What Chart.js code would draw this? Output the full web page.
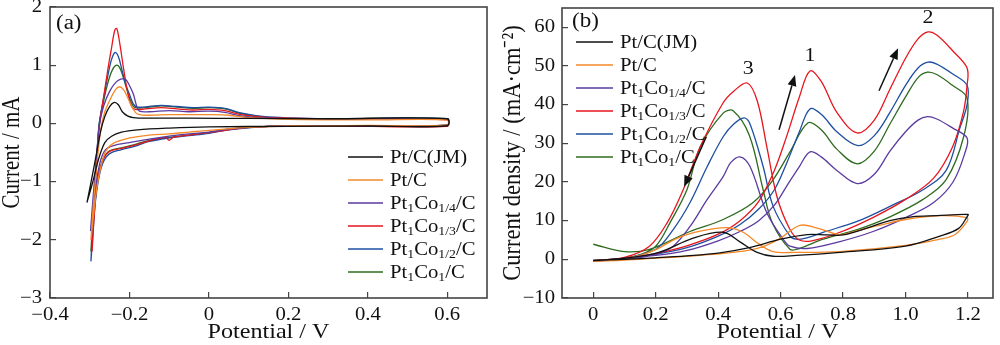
<!DOCTYPE html>
<html><head><meta charset="utf-8">
<script src="https://cdn.jsdelivr.net/npm/chart.js@4.4.1/dist/chart.umd.min.js"></script>
<style>
body{margin:0;background:#fff;width:1000px;height:345px;overflow:hidden}
#wrap{position:relative;width:1000px;height:345px}
canvas{position:absolute;top:0}
#ca{left:0}#cb{left:500px}
</style></head><body>
<div id="wrap"><canvas id="ca" width="500" height="345"></canvas><canvas id="cb" width="500" height="345"></canvas></div>
<script>
// ---------- shared ----------
const seriesNames = ['Pt/C(JM)', 'Pt/C', 'Pt_1Co_{1/4}/C', 'Pt_1Co_{1/3}/C', 'Pt_1Co_{1/2}/C', 'Pt_1Co_1/C'];
const seriesColors = ['#111111', '#f5892a', '#5b3aa0', '#e6161e', '#1d4fa0', '#2e6b1e'];

// ---------- panel (a): CV, potential (V) vs current (mA) ----------
const aXTicks = [-0.4, -0.2, 0, 0.2, 0.4, 0.6];
const aXTickLabels = ['\u22120.4', '\u22120.2', '0', '0.2', '0.4', '0.6'];
const aYTicks = [-3, -2, -1, 0, 1, 2];
const aYTickLabels = ['\u22123', '\u22122', '\u22121', '0', '1', '2'];

const aV_JM = [-0.307,-0.295,-0.283,-0.272,-0.262,-0.25,-0.238,-0.228,-0.218,-0.205,-0.19,-0.15,-0.05,0.1,0.3,0.6, 0.6,0.4,0.2,0,-0.1,-0.18,-0.22,-0.245,-0.262,-0.278,-0.292,-0.307];
const aI_JM = [-1.36,-0.95,-0.52,-0.12,0.12,0.29,0.36,0.32,0.2,0.13,0.1,0.09,0.09,0.085,0.08,0.08, -0.04,-0.045,-0.05,-0.06,-0.08,-0.11,-0.15,-0.22,-0.33,-0.62,-1.0,-1.36];

const aV_PtC = [-0.297,-0.292,-0.286,-0.279,-0.272,-0.262,-0.248,-0.235,-0.225,-0.215,-0.205,-0.195,-0.185,-0.175,-0.15,-0.1,-0.05,0,0.05,0.1,0.2,0.4,0.6, 0.6,0.4,0.2,0.1,0,-0.05,-0.1,-0.15,-0.2,-0.24,-0.26,-0.272,-0.282,-0.29,-0.297];
const aI_PtC = [-2.0,-1.5,-1.0,-0.5,-0.1,0.2,0.42,0.58,0.63,0.58,0.45,0.3,0.19,0.15,0.14,0.15,0.15,0.15,0.14,0.1,0.07,0.06,0.06, -0.03,-0.035,-0.045,-0.07,-0.12,-0.15,-0.18,-0.2,-0.25,-0.34,-0.48,-0.75,-1.1,-1.55,-2.0];

const aV_14 = [-0.298,-0.293,-0.287,-0.281,-0.275,-0.265,-0.25,-0.235,-0.222,-0.21,-0.2,-0.19,-0.182,-0.175,-0.15,-0.1,-0.05,0,0.04,0.08,0.15,0.3,0.6, 0.6,0.3,0.15,0.05,0,-0.05,-0.1,-0.15,-0.2,-0.24,-0.26,-0.272,-0.282,-0.29,-0.298];
const aI_14 = [-1.85,-1.4,-0.9,-0.4,0.0,0.3,0.55,0.7,0.76,0.76,0.65,0.5,0.3,0.21,0.2,0.22,0.2,0.21,0.19,0.13,0.09,0.07,0.07, -0.03,-0.04,-0.05,-0.1,-0.15,-0.18,-0.22,-0.27,-0.33,-0.38,-0.45,-0.62,-0.95,-1.4,-1.85];

const aV_13 = [-0.294,-0.29,-0.285,-0.28,-0.275,-0.265,-0.255,-0.245,-0.237,-0.232,-0.225,-0.215,-0.205,-0.195,-0.185,-0.16,-0.12,-0.08,-0.04,0,0.04,0.08,0.15,0.3,0.6, 0.6,0.3,0.15,0.1,0.05,0,-0.05,-0.09,-0.1,-0.11,-0.15,-0.19,-0.22,-0.25,-0.265,-0.275,-0.283,-0.289,-0.294];
const aI_13 = [-2.2,-1.6,-0.95,-0.4,0.0,0.45,0.9,1.3,1.6,1.63,1.4,0.95,0.55,0.3,0.24,0.25,0.27,0.25,0.23,0.24,0.22,0.15,0.1,0.08,0.06, -0.05,-0.04,-0.05,-0.07,-0.11,-0.16,-0.2,-0.24,-0.29,-0.24,-0.3,-0.38,-0.43,-0.48,-0.6,-0.8,-1.1,-1.6,-2.2];

const aV_12 = [-0.297,-0.292,-0.287,-0.281,-0.276,-0.266,-0.255,-0.245,-0.236,-0.228,-0.22,-0.21,-0.2,-0.19,-0.18,-0.15,-0.12,-0.08,-0.04,0,0.04,0.08,0.15,0.3,0.6, 0.6,0.3,0.15,0.05,0,-0.05,-0.1,-0.15,-0.19,-0.22,-0.25,-0.265,-0.276,-0.285,-0.291,-0.297];
const aI_12 = [-2.37,-1.7,-1.05,-0.45,0.0,0.4,0.8,1.1,1.22,1.15,0.95,0.68,0.5,0.33,0.28,0.29,0.31,0.29,0.27,0.28,0.26,0.18,0.11,0.08,0.08, -0.03,-0.04,-0.05,-0.11,-0.17,-0.21,-0.25,-0.31,-0.4,-0.45,-0.52,-0.65,-0.9,-1.3,-1.8,-2.37];

const aV_11 = [-0.297,-0.292,-0.287,-0.281,-0.276,-0.266,-0.255,-0.243,-0.232,-0.224,-0.215,-0.205,-0.195,-0.185,-0.15,-0.12,-0.08,-0.04,0,0.04,0.08,0.15,0.3,0.6, 0.6,0.3,0.15,0.05,0,-0.05,-0.1,-0.15,-0.19,-0.22,-0.25,-0.265,-0.276,-0.285,-0.291,-0.297];
const aI_11 = [-2.2,-1.6,-1.0,-0.45,0.0,0.35,0.68,0.92,1.0,0.95,0.78,0.55,0.35,0.27,0.28,0.3,0.28,0.26,0.27,0.25,0.17,0.1,0.08,0.08, -0.03,-0.04,-0.05,-0.1,-0.16,-0.2,-0.24,-0.29,-0.37,-0.42,-0.47,-0.6,-0.85,-1.25,-1.7,-2.2];

// ---------- panel (b): potential (V) vs current density (mA/cm2) ----------
const bXTicks = [0, 0.2, 0.4, 0.6, 0.8, 1.0, 1.2];
const bXTickLabels = ['0', '0.2', '0.4', '0.6', '0.8', '1.0', '1.2'];
const bYTicks = [-10, 0, 10, 20, 30, 40, 50, 60];
const bYTickLabels = ['\u221210', '0', '10', '20', '30', '40', '50', '60'];

const bV_JM = [0,0.1,0.2,0.3,0.4,0.5,0.6,0.685,0.75,0.8,0.873,0.95,1.02,1.1,1.2, 1.197,1.17,1.11,1.0,0.79,0.65,0.576,0.525,0.47,0.416,0.32,0.21,0.1,0];
const bJ_JM = [-0.3,0,0.4,0.9,1.6,3.0,5.2,6.4,6.3,6.3,8,10,11,11.3,11.6, 11,8,6,3.4,1.8,1,0.8,1.8,4.5,7,5.5,1.8,0.3,-0.3];

const bV_PtC = [0,0.1,0.2,0.3,0.4,0.5,0.55,0.6,0.662,0.72,0.79,0.85,0.9,1.0,1.11,1.197, 1.197,1.16,1.11,1.0,0.79,0.65,0.576,0.53,0.48,0.43,0.35,0.27,0.2,0.15,0.1,0];
const bJ_PtC = [-0.5,-0.2,0.3,0.8,1.4,2.4,3.5,5.5,8.8,8,6.4,7.5,8.5,10.3,11.3,10.8, 9.8,6.5,5.2,3.6,2,1.8,2,4,7,8.2,7.4,5.5,2.5,1,0.2,-0.5];

const bV_14 = [0,0.2,0.3,0.4,0.47,0.53,0.58,0.62,0.66,0.694,0.73,0.78,0.845,0.9,0.95,1.0,1.04,1.07,1.1,1.15,1.197, 1.19,1.152,1.09,1.0,0.896,0.79,0.685,0.63,0.61,0.556,0.502,0.47,0.44,0.416,0.365,0.31,0.256,0.2,0.1,0];
const bJ_14 = [-0.4,1,2.3,4.8,7.2,10,14,19,24,27.8,26.5,23,19.6,22,28,33,36,36.9,36.3,34,31.4, 27.5,20,14.7,10.8,7.2,4.6,2.8,3.4,5,12,24,26.5,25,21.4,15.5,8.5,3.4,1.3,0,-0.4];

const bV_13 = [0,0.1,0.2,0.3,0.4,0.47,0.53,0.58,0.62,0.66,0.694,0.73,0.78,0.845,0.9,0.95,1.0,1.04,1.072,1.1,1.15,1.197, 1.197,1.185,1.15,1.09,1.0,0.9,0.79,0.7,0.66,0.63,0.589,0.556,0.525,0.493,0.45,0.416,0.342,0.288,0.237,0.18,0.1,0];
const bJ_13 = [-0.3,0.3,1.5,3.5,6.5,10,15,23,32,42,48.7,46,38,32.7,36,44,52,57,58.8,58,54,49.5, 45,38,29,21,15.5,11,7,4.8,5,7.7,16,29,41,45.6,43.5,40.5,29,18,9.5,3.4,0.5,-0.5];

const bV_12 = [0,0.1,0.2,0.3,0.4,0.47,0.53,0.58,0.62,0.66,0.694,0.73,0.78,0.848,0.9,0.95,1.0,1.04,1.072,1.1,1.15,1.197, 1.197,1.174,1.13,1.056,0.95,0.845,0.736,0.68,0.65,0.63,0.576,0.544,0.502,0.483,0.45,0.416,0.365,0.31,0.256,0.2,0.1,0];
const bJ_12 = [-0.4,0.2,1.3,3,6,9,13,18,25,33,38.9,37.5,33,29.4,32,38,45,49.5,51,50.5,48,45, 40,34,23,18,13.7,9.8,7,5.5,5.2,6,13.7,24,35,36.6,35,31.7,24,14.7,7.7,2.6,0.3,-0.4];

const bV_11 = [0,0.1,0.18,0.31,0.416,0.512,0.576,0.63,0.688,0.73,0.78,0.845,0.9,0.95,1.0,1.04,1.07,1.1,1.15,1.197, 1.186,1.13,1.056,0.95,0.845,0.736,0.66,0.63,0.573,0.544,0.5,0.448,0.416,0.342,0.3,0.246,0.2,0.15,0.1,0];
const bJ_11 = [3.9,2,2.6,7.2,10.3,14.7,20.6,27.8,35.3,33.5,28.5,24.7,28,35,42,47,48.4,47.8,45,41.7, 31.7,20.6,15.5,11,7.7,5.2,2.8,2.6,9.5,18,32,38.4,37.8,29,18,9.5,3.4,1.2,0.2,-0.3];

// annotations of panel (b) in data units
const bPeakLabels = [{t:'1', x:0.694, y:52.5}, {t:'2', x:1.072, y:62.3}, {t:'3', x:0.496, y:49.2}];
const bArrows = [{x1:0.595, y1:33.5, x2:0.646, y2:47.7}, {x1:0.915, y1:43.6, x2:0.976, y2:54.6}, {x1:0.362, y1:31.7, x2:0.291, y2:18.8}];

// ---------- helpers ----------
const SERIF = '"Liberation Serif", "Times New Roman", serif';
const STRETCH = 1.15;   // text in the source figure is horizontally widened
function stretchCtx(canvas, s){
  const ctx = canvas.getContext('2d');
  const of = ctx.fillText.bind(ctx), om = ctx.measureText.bind(ctx);
  ctx.fillText = function(t, x, y, mw){
    const m = ctx.getTransform();
    const p = m.transformPoint(new DOMPoint(x, y));
    ctx.setTransform(new DOMMatrix([s,0,0,1,p.x*(1-s),0]).multiply(m));
    if (mw !== undefined) of(t, x, y, mw); else of(t, x, y);
    ctx.setTransform(m);
  };
  ctx.measureText = function(t){
    const r = om(t);
    return {width: r.width*s, actualBoundingBoxAscent: r.actualBoundingBoxAscent, actualBoundingBoxDescent: r.actualBoundingBoxDescent,
            actualBoundingBoxLeft: r.actualBoundingBoxLeft*s, actualBoundingBoxRight: r.actualBoundingBoxRight*s};
  };
}
function pts(V, Y){ return V.map((v,k)=>({x:v, y:Y[k]})); }
function plain(s){ return s.replace(/_\{([^}]*)\}/g,'$1').replace(/_(.)/g,'$1'); }
function makeSets(list){
  return list.map((p,i)=>({label: plain(seriesNames[i]), data: pts(p[0],p[1]), borderColor: seriesColors[i], backgroundColor: seriesColors[i],
    showLine:true, pointRadius:0, borderWidth:1.3, tension:0.35, fill:false}));
}
function drawRich(ctx, str, x, y, size){
  const parts=[]; const re=/_\{([^}]*)\}|_(.)|([^_]+)/g; let m;
  while((m=re.exec(str))){ if(m[1]!==undefined) parts.push({t:m[1],sub:true}); else if(m[2]!==undefined) parts.push({t:m[2],sub:true}); else parts.push({t:m[3],sub:false}); }
  let cx=x;
  for(const p of parts){
    const fs = p.sub ? Math.round(size*0.64) : size;
    ctx.font = fs+'px '+SERIF;
    ctx.fillText(p.t, cx, y + (p.sub ? size*0.25 : 0));
    cx += ctx.measureText(p.t).width;
  }
}
const framePlugin = {
  id:'frame',
  afterDatasetsDraw(chart, args, opts){
    const {ctx, chartArea:a} = chart;
    ctx.save();
    ctx.strokeStyle='#444'; ctx.lineWidth=1.6;
    ctx.strokeRect(a.left, a.top, a.right-a.left, a.bottom-a.top);
    ctx.fillStyle='#111'; ctx.textBaseline='middle'; ctx.textAlign='left';
    ctx.font='20px '+SERIF;
    ctx.fillText(opts.tag, a.left+opts.tagDx, a.top+opts.tagDy);
    const L = opts.legend;
    ctx.lineWidth=1.3;
    seriesNames.forEach((n,i)=>{
      const y = L.y + i*L.dy;
      ctx.strokeStyle=seriesColors[i];
      ctx.beginPath(); ctx.moveTo(L.x, y); ctx.lineTo(L.x+L.len, y); ctx.stroke();
      ctx.fillStyle='#111'; ctx.textBaseline='middle';
      drawRich(ctx, n, L.x+L.len+L.gap, y+1, 18);
    });
    if (opts.annot){
      const xs = chart.scales.x, ys = chart.scales.y;
      ctx.fillStyle='#111'; ctx.strokeStyle='#111'; ctx.lineWidth=1.5;
      ctx.textAlign='center'; ctx.font='19px '+SERIF;
      bPeakLabels.forEach(p=>ctx.fillText(p.t, xs.getPixelForValue(p.x), ys.getPixelForValue(p.y)));
      bArrows.forEach(r=>{
        const x1=xs.getPixelForValue(r.x1), y1=ys.getPixelForValue(r.y1), x2=xs.getPixelForValue(r.x2), y2=ys.getPixelForValue(r.y2);
        const ang=Math.atan2(y2-y1,x2-x1), hl=11, hw=4.5;
        const bx=x2-hl*Math.cos(ang), by=y2-hl*Math.sin(ang);
        ctx.beginPath(); ctx.moveTo(x1,y1); ctx.lineTo(bx,by); ctx.stroke();
        ctx.beginPath(); ctx.moveTo(x2,y2);
        ctx.lineTo(bx+hw*Math.sin(ang), by-hw*Math.cos(ang));
        ctx.lineTo(bx-hw*Math.sin(ang), by+hw*Math.cos(ang));
        ctx.closePath(); ctx.fill();
      });
    }
    ctx.restore();
  }
};
function axis(min, max, ticks, labels, pad, size, isX, title, tpad, tsize){
  return {
    type:'linear', min, max,
    afterBuildTicks: s => { s.ticks = ticks.map(v=>({value:v})); },
    afterFit: s => {
      if (isX) { s.height = size; s.paddingLeft = 0; s.paddingRight = 0; }
      else { s.width = size; s.paddingTop = 0; s.paddingBottom = 0; }
    },
    ticks:{ callback:(v,i)=>labels[i], font:{family:SERIF, size:18}, color:'#111', padding:pad, maxRotation:0, autoSkip:false },
    grid:{ drawOnChartArea:false, drawTicks:true, tickLength:-6, color:'#444', lineWidth:1.2 },
    border:{ display:false },
    title:{ display:true, text:title, font:{family:SERIF, size:tsize}, color:'#111', padding:tpad }
  };
}
Chart.defaults.font.family = SERIF;
const cA = document.getElementById('ca'), cB = document.getElementById('cb');
stretchCtx(cA, STRETCH); stretchCtx(cB, STRETCH);

new Chart(cA, {
  type:'scatter',
  data:{ datasets: makeSets([[aV_JM,aI_JM],[aV_PtC,aI_PtC],[aV_14,aI_14],[aV_13,aI_13],[aV_12,aI_12],[aV_11,aI_11]]) },
  options:{
    responsive:false, animation:false, devicePixelRatio:1,
    layout:{ padding:{ top:7, right:13, left:0, bottom:0 } },
    scales:{
      x: axis(-0.4, 0.7, aXTicks, aXTickLabels, 12, 47, true, 'Potential / V', {top:0, bottom:0}, 21),
      y: axis(-3, 2, aYTicks, aYTickLabels, 14, 50, false, 'Current / mA', {top:0, bottom:0}, 21)
    },
    plugins:{ legend:{display:false}, tooltip:{enabled:false},
      frame:{ tag:'(a)', tagDx:6, tagDy:17, legend:{x:348, y:157, dy:23, len:35, gap:7} } }
  },
  plugins:[framePlugin]
});

new Chart(cB, {
  type:'scatter',
  data:{ datasets: makeSets([[bV_JM,bJ_JM],[bV_PtC,bJ_PtC],[bV_14,bJ_14],[bV_13,bJ_13],[bV_12,bJ_12],[bV_11,bJ_11]]) },
  options:{
    responsive:false, animation:false, devicePixelRatio:1,
    layout:{ padding:{ top:8, right:7, left:0, bottom:0 } },
    scales:{
      x: axis(-0.1, 1.28, bXTicks, bXTickLabels, 12, 47, true, 'Potential / V', {top:0, bottom:0}, 21),
      y: axis(-10, 65, bYTicks, bYTickLabels, 13, 62, false, 'Current density / (mA\u00b7cm\u207b\u00b2)', {top:0, bottom:0}, 22.5)
    },
    plugins:{ legend:{display:false}, tooltip:{enabled:false},
      frame:{ tag:'(b)', tagDx:10, tagDy:14, annot:true, legend:{x:76, y:42, dy:23, len:37, gap:7} } }
  },
  plugins:[framePlugin]
});
</script>
</body></html>
